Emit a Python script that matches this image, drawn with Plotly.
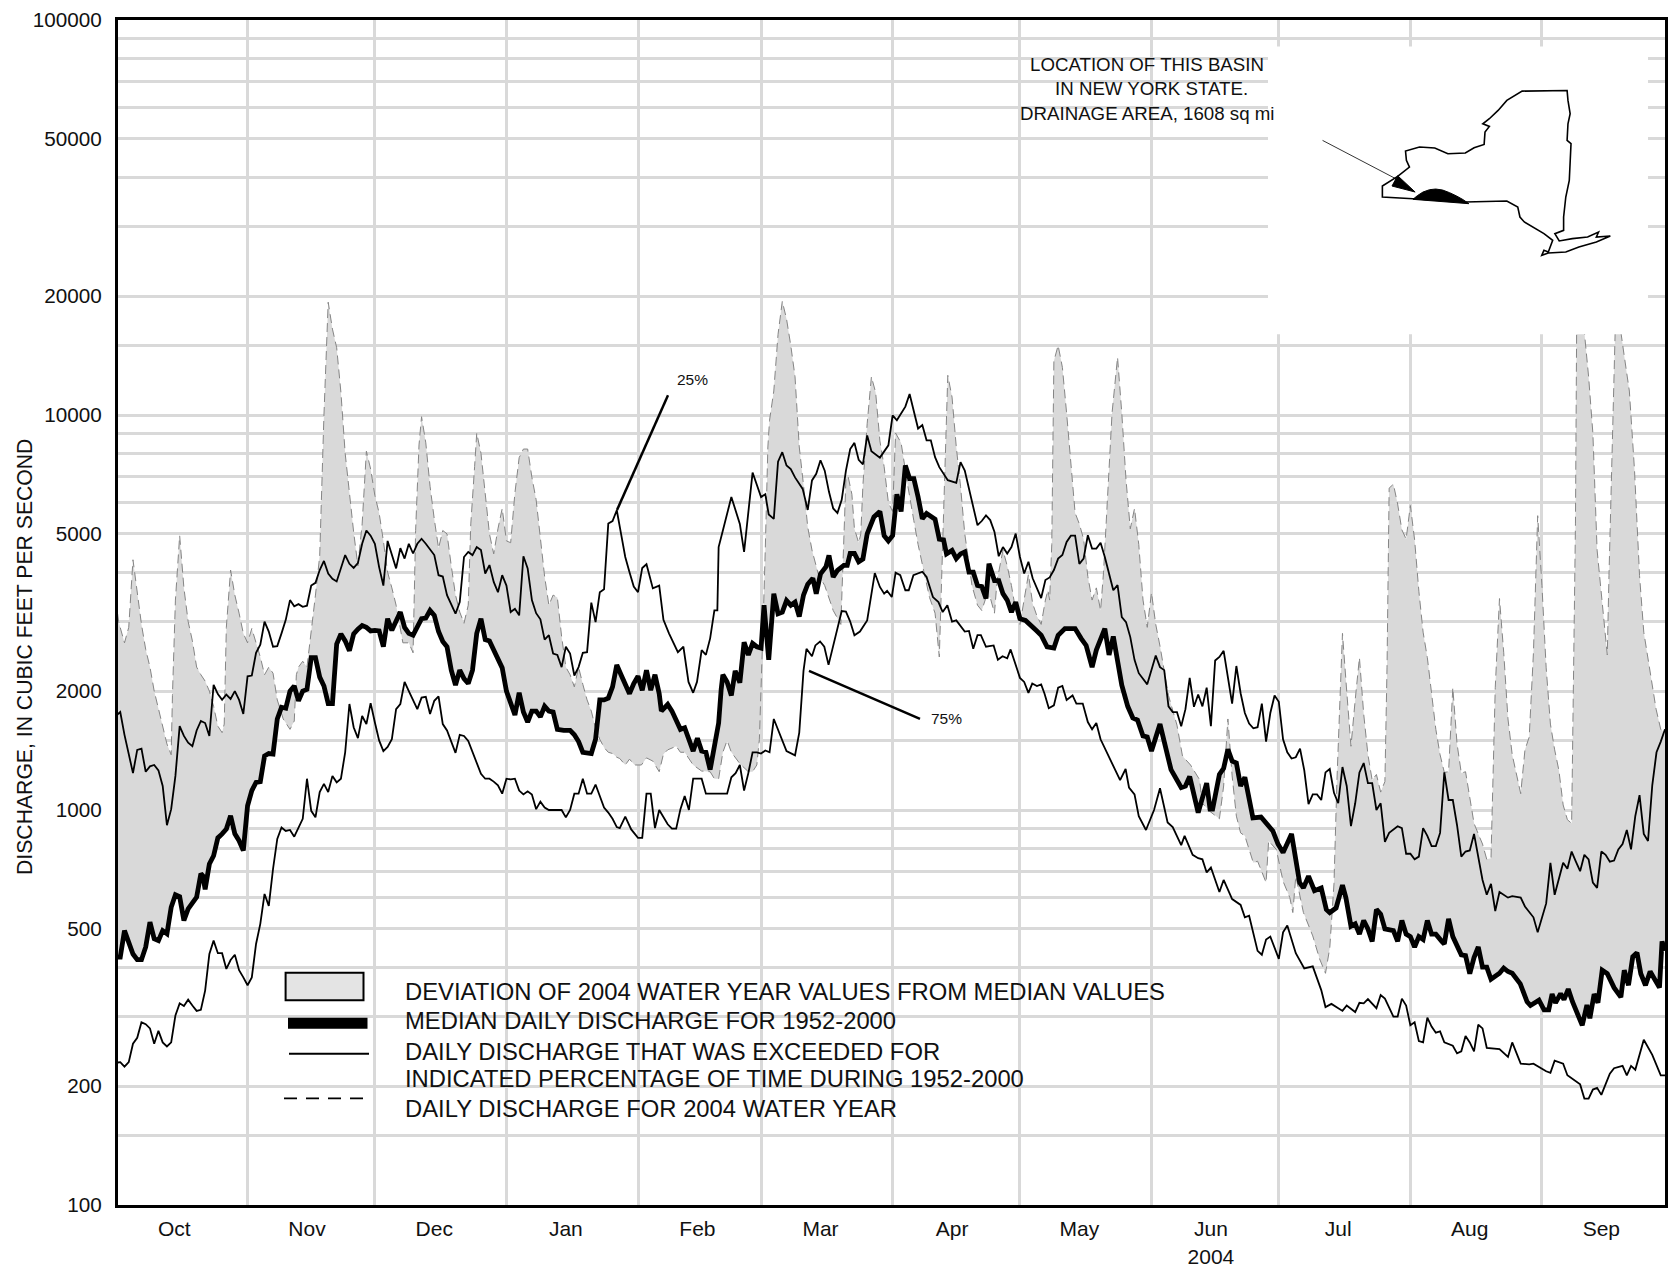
import pandas as pd
import plotly.graph_objects as go

START = pd.Timestamp("2003-10-01")

# (day of water year, discharge in cfs)
WY2004 = [(0,3400),(0.6,3000),(2,2650),(3,2900),(4,4300),(5,3550),(6,2950),(7,2550),(8,2300),(9,2000),(10,1800),(11,1610),(12,1470),(13,1380),(13.3,1950),(14,3400),(15,4950),(16,3650),(17,3000),(18,2680),(19,2300),(20,2200),(21,2120),(22,2000),(23,1830),(24,1630),(25,1570),(25.5,1650),(26,2900),(27,4050),(28,3500),(29,3150),(30,2800),(31,2650),(32,2880),(33,2650),(34,2440),(35,2200),(36,2300),(37,2220),(38,1900),(39.4,1700),(41,1600),(42,1680),(42.5,2200),(43,2300),(44,2380),(45,2300),(46,2800),(47,3500),(48,4400),(49,10000),(50,19300),(51,16500),(52,14800),(53,11400),(54,8000),(55,6250),(56,5050),(57,4150),(58,5300),(59,8100),(60,7300),(61,6250),(62,5650),(63,4800),(64,4000),(65,3650),(66,3300),(67.6,2650),(69,2650),(70,2500),(70.2,3100),(70.6,5100),(71.4,8400),(72,9900),(73,8500),(74,6600),(75,5450),(76,4600),(77,5100),(78,5000),(79,4150),(80,3500),(81,3170),(82,2970),(83,3300),(83.6,5300),(84.5,7400),(85,9000),(86,8000),(87,6350),(88,5000),(89,4450),(90,5150),(91,5800),(92,4800),(93,4750),(94,6350),(95,7800),(96,8200),(97,8200),(98,6950),(99,6100),(100,4950),(101,3900),(102,3300),(103,3500),(104,3450),(105,2750),(106,2300),(107,2200),(108,2050),(109,2300),(110,2080),(111,1900),(112,1780),(113,1610),(114,1510),(115,1440),(116,1400),(117,1390),(118,1360),(118.7,1350),(120,1300),(121,1345),(122.2,1300),(123.8,1300),(125,1355),(126.5,1330),(128,1250),(129,1385),(130,1420),(132,1450),(133,1400),(134,1400),(136,1300),(138,1255),(140,1250),(141,1200),(142,1200),(143,1400),(144,1500),(145,1400),(147,1310),(149,1250),(150,1250),(151,1300),(151.6,1510),(152,1980),(152.5,3000),(153,4600),(153.6,8300),(154,9700),(155,11500),(156,16000),(157,19400),(158,17500),(159,15000),(160,12500),(160.6,10100),(161,8300),(162,6650),(163,5200),(164,4550),(165.5,3950),(167,3700),(168,3450),(169,3200),(170.8,2950),(171.3,4450),(172,6900),(172.5,7000),(173.4,6300),(174,5150),(175,4750),(175.5,5000),(176,6650),(177,9500),(178,12500),(179,11400),(180,8600),(181,7400),(182,6000),(183,5700),(183.7,9000),(185,8500),(186,7200),(186.6,6600),(188,5400),(189,4700),(190.4,4000),(191.7,3450),(193,3150),(194,2440),(195,5600),(195.5,8300),(196,12600),(197,11100),(198,8300),(199,6600),(200,5000),(201,4200),(201.7,3700),(203,3300),(204,3200),(205,3450),(206,3450),(207,3150),(207.6,3800),(209,4550),(210,4150),(211,3700),(212,3200),(213,2950),(214,3400),(215,3950),(216,3330),(217,3100),(218,2950),(219,3400),(219.6,3600),(220,3400),(220.5,4700),(221,13700),(222,15000),(223,13200),(224,10100),(225,7400),(226,5650),(227,5300),(228,4850),(229,3900),(230,3400),(231,3650),(232,3200),(232.7,4000),(233.5,6000),(234.7,10100),(236,14000),(237,10100),(238,6850),(239,5150),(240,5800),(241,4700),(242,3400),(243,2900),(244,3550),(245,2950),(246,2600),(247,2270),(248,1950),(250,1640),(251.3,1370),(253.2,1300),(255.3,1195),(256,1040),(257.6,995),(260,950),(261,1150),(262,1700),(263,1220),(264,965),(265,875),(266,860),(267,795),(268,735),(269,742),(271,655),(271.6,835),(273.4,795),(275,660),(276.6,600),(277.3,550),(278,680),(279.8,550),(282,480),(283.6,420),(285,386),(286,447),(287,650),(287.7,1190),(288.3,1800),(289,2800),(290,2000),(291,1450),(292,1900),(293,2430),(294,1750),(295,1380),(296,1190),(297,1230),(298,1110),(299,1180),(299.5,2300),(300,6530),(301,6680),(302,5950),(303,5120),(304,4850),(305,5900),(306,4830),(307,3580),(308,2820),(309,2430),(310,1980),(311,1600),(312,1380),(313,1245),(314,1250),(315,2040),(316,1470),(317,1240),(318,1250),(319,1060),(320,925),(321,870),(322,820),(323,750),(324,755),(325,2040),(326,3430),(327,2500),(328,1700),(329,1380),(330,1230),(331,1100),(332,1420),(333,1530),(334,2500),(335,5560),(336,3700),(337,2290),(338,1650),(339,1420),(340,1260),(341,1030),(342,945),(343,925),(343.9,5300),(344.2,18000),(345,24000),(346,16200),(347,12500),(348,9000),(349,4550),(350.2,3280),(351.4,2470),(351.8,3920),(353,14100),(353.3,17000),(354,21000),(354.5,16500),(355.4,14100),(356.6,11500),(357.8,7300),(359,3920),(360,2820),(361.7,2200),(362.9,1800),(364,1600),(365,1560)]

Q50 = [(0,424),(1,424),(2,495),(3,458),(4,432),(5,418),(6,418),(7,450),(8,520),(9,472),(10,467),(11,495),(12,486),(13,567),(14,610),(15,603),(16,525),(17,562),(19,602),(20,690),(20.5,680),(21,630),(22,730),(23,766),(24,850),(25,870),(26,895),(27,967),(28,870),(29,836),(30,790),(31,1025),(32,1120),(33,1175),(34,1180),(35,1370),(36,1390),(37,1385),(38,1700),(39,1820),(40,1810),(41,2000),(42,2060),(43,1890),(44,2000),(45,2020),(46,2430),(47,2430),(48,2170),(49,2060),(50,1860),(51,1860),(52,2630),(53,2790),(54,2680),(55,2530),(56,2790),(57,2870),(58,2930),(59,2900),(60,2840),(61,2850),(62,2840),(63,2590),(64,3050),(65,2850),(66,3020),(67,3170),(68,2900),(69,2800),(70,2770),(71,2900),(72,3050),(73,3060),(74,3200),(75,3110),(76,2830),(77,2670),(78,2590),(79,2260),(80,2070),(81,2260),(82,2150),(83,2090),(84,2260),(85,2800),(86,3050),(87,2700),(88,2680),(89,2540),(90,2400),(91,2290),(92,2000),(93,1860),(94,1740),(95,1980),(96,1770),(97,1670),(98,1780),(99,1780),(100,1720),(101,1830),(102,1780),(103,1770),(104,1600),(105.5,1590),(107,1590),(108,1550),(109,1490),(110,1400),(111,1390),(112,1390),(113,1510),(114,1900),(115,1900),(116,1920),(117,2050),(118,2330),(119,2200),(120,2070),(121,1970),(122,2090),(123,2180),(124,2010),(125,2260),(126,2010),(127,2200),(128,1970),(128.5,1780),(130,1850),(131,1780),(133,1600),(134,1615),(136,1410),(137,1520),(138,1410),(139,1400),(140,1265),(141,1430),(142,1660),(142.6,2020),(143,2200),(144,2110),(145,1950),(145.9,2250),(147,2100),(148,2660),(149,2470),(150,2640),(151,2590),(152,2570),(152.7,3300),(153.8,2400),(155,3530),(156,3140),(157,3170),(158,3390),(159,3300),(160,3360),(161,3090),(162,3500),(163,3730),(164.2,3860),(165,3530),(166,3960),(167.3,4130),(168,4410),(169,3890),(170,4040),(171.5,4160),(172.3,4160),(173,4460),(174,4460),(175,4250),(176,4320),(177,5000),(178.6,5520),(180,5700),(181,4950),(182,4800),(183,4950),(184,6300),(185,5700),(186,7450),(187,6900),(188,6900),(189,6200),(190,5460),(191,5630),(193,5450),(194,4850),(195,4830),(195.7,4450),(197,4540),(198,4330),(199,4450),(200,4500),(201,4000),(202,4000),(203,3700),(204,3680),(205,3430),(205.7,4200),(207,3810),(208,3810),(209,3530),(210,3400),(211,3170),(212,3360),(213,3050),(214.3,3020),(215.6,2940),(216.8,2850),(218,2770),(219.4,2590),(221,2570),(222,2770),(223.6,2880),(226,2880),(227.4,2720),(228.6,2610),(230,2300),(231,2540),(233,2880),(234,2470),(235,2750),(236,2420),(237,2070),(238.4,1830),(239.6,1710),(240.7,1690),(242,1540),(243,1530),(244,1410),(246,1650),(247,1480),(248.6,1265),(251,1140),(252,1150),(253,1215),(255,985),(257,1170),(257.8,1005),(258.4,1005),(260,1230),(261,1275),(262,1425),(263,1330),(264,1315),(265,1150),(266,1210),(267.9,955),(269.8,960),(272.6,885),(273.8,820),(275,780),(277,870),(278.9,655),(279.8,635),(281,680),(282.4,625),(284,635),(285.2,560),(286,550),(287.5,565),(289,645),(289.8,600),(291,508),(292,515),(293,485),(294,525),(295,500),(296,465),(297,560),(298,545),(299,500),(301,495),(302,465),(303,525),(304,485),(305,478),(306,450),(307,478),(308,470),(309,525),(310,485),(311,485),(312.4,465),(313,458),(314,530),(315,478),(317,430),(318,428),(319,385),(320,423),(321,450),(322,400),(323,400),(324,373),(326,386),(327,398),(328,390),(329,386),(330.9,363),(332.5,327),(333.3,320),(335.3,330),(336.5,312),(337.6,312),(338.4,342),(339.2,325),(340.4,343),(341.2,331),(342.2,352),(343.2,327),(345.5,285),(346.6,321),(347.3,297),(348.3,342),(349.2,325),(350.2,393),(351.4,385),(353,355),(354.6,336),(355.4,393),(356.4,360),(357.4,425),(358.4,435),(359.3,385),(360.4,360),(361.5,390),(363.7,355),(364.3,465),(365,440)]

Q25 = [(0,1733),(1,1770),(2,1550),(3,1390),(4,1240),(5,1420),(6,1430),(7,1250),(8,1290),(9,1300),(10,1260),(11,1150),(12,915),(13,1005),(14,1220),(15,1630),(16,1540),(17,1480),(18,1450),(19,1590),(20,1680),(21,1660),(22,1540),(23,2075),(24,1965),(25,1900),(26,1960),(27,1910),(28,2000),(29,1900),(30,1750),(31,2180),(32,2190),(33,2500),(34,2620),(35,3000),(36,2830),(37,2590),(38,2600),(39,2800),(40,3030),(41,3400),(42,3280),(43,3320),(44,3270),(45,3290),(46,3700),(47,3760),(48,4050),(49,4270),(50,3970),(51,3850),(52,3790),(54,4420),(55,4200),(56,4100),(57,4220),(58,4720),(59,5100),(60,4950),(61,4720),(62,4120),(63,3700),(64,4800),(65,4420),(66,4090),(67,4600),(68,4330),(69,4720),(70,4460),(71,4720),(72,4860),(73,4720),(74,4550),(75,4420),(76,3930),(77,3900),(78,3500),(79,3300),(80,3140),(81,3360),(82,4370),(83,4500),(84,4420),(85,4630),(86,4550),(87,3970),(88,4170),(89,3780),(90,3560),(91,3930),(92,3700),(93,3170),(94,3230),(95,3110),(96,4390),(97,4090),(98,3400),(99,3150),(100,3040),(101,2700),(102,2770),(103,2490),(104,2470),(105,2300),(106,2590),(107,2490),(108,2190),(109,2300),(110,2500),(111,2510),(112,3350),(113,2990),(114,3560),(115,3620),(116,5310),(117,5390),(118,5740),(119,5010),(120,4370),(121,4000),(122,3680),(123,3560),(124,4100),(125,4190),(126.5,3640),(128,3700),(129,3030),(130.3,2800),(131.4,2640),(132.4,2510),(133.7,2590),(134.9,2110),(136,1980),(136.9,2110),(138,2540),(139,2470),(140,2720),(141,3200),(141.7,3200),(142,4630),(143,5100),(145,6200),(147,5300),(148,4500),(150,7150),(152,6200),(153,6300),(153.8,5600),(155,5460),(156,7620),(157,8050),(158,7450),(159,7300),(160,6950),(161.8,6500),(163,5750),(164,6830),(165,7100),(166,7680),(167,7230),(168,6390),(169,5800),(170,5650),(171,6100),(172,7230),(173,8200),(174,8500),(175,7700),(176,7500),(177,8880),(178,8100),(180,7800),(182,8380),(183,9980),(184,9700),(185,10100),(186,10500),(187,11300),(189,9240),(190,9430),(191,8630),(192,8630),(193,7820),(194,7380),(196,6840),(198,6730),(199,7600),(200,7230),(201,6500),(203,5260),(204,5390),(205,5570),(206,5420),(207,5060),(208,4390),(209,4630),(210,4460),(211,4630),(212,5010),(213,4370),(214,3970),(215,4250),(216,3860),(217,3630),(218,3440),(219,3820),(220,3880),(221,4050),(222,4330),(223,4420),(224,4770),(225,4950),(226,4950),(227,4200),(228,4330),(229,4960),(230,4590),(231,4590),(232,4750),(233,4370),(234,3970),(235,3600),(236,3710),(237,3080),(238,2990),(239,2740),(240,2400),(241,2220),(243,2080),(244,2250),(245,2460),(246,2300),(247,2260),(248,1830),(249,1770),(250,1770),(251,1630),(252,1800),(253,2160),(254,1825),(255,1960),(256,1830),(257,2040),(258,1630),(259,2390),(260,2440),(261,2530),(263,1860),(264,2315),(265,1975),(266,1760),(267,1655),(268,1610),(269,1620),(270,1860),(271,1490),(272,1760),(273,1950),(274,1880),(275,1510),(276,1400),(277,1350),(278,1360),(279,1430),(280,1260),(281,1035),(282,1095),(283,1095),(284,1060),(285,1245),(286,1270),(287,1105),(288,1040),(289,1285),(290,1150),(291,910),(292,1040),(293,1245),(294,1315),(295,1170),(296,1170),(297,1000),(298,1040),(299,830),(300,875),(302,910),(303,900),(304,775),(305,775),(306,750),(307,762),(308,900),(309,860),(310,810),(311,810),(312,875),(313,1245),(314,1060),(315,1060),(316,915),(317,762),(318,785),(319,790),(320,870),(321,760),(322,665),(323,610),(324,650),(325,555),(326,620),(328,600),(329,605),(331,600),(332,570),(334,535),(335,490),(337,580),(338,735),(339,610),(341,735),(342,710),(343,785),(344,740),(345,700),(346,770),(347,750),(348,655),(349,635),(350,785),(351,770),(352,740),(353,745),(354,795),(355,820),(356,890),(357,795),(358,965),(359,1090),(360,870),(361,835),(362,1155),(363,1400),(364,1490),(365,1600)]

Q75 = [(0,229),(1,230),(2,224),(3,230),(4,256),(5,265),(6,290),(7,287),(8,280),(9,256),(10,276),(11,258),(12,252),(13,258),(14,302),(15,324),(16,319),(17,331),(18,320),(19,310),(20,312),(21,349),(22,432),(23,467),(24,434),(25,434),(26,396),(27,417),(28,430),(29,393),(30,377),(31,360),(32,377),(33,458),(34,515),(35,613),(36,572),(37,709),(38,845),(39,903),(40,885),(41,890),(42,856),(43,900),(44,950),(45,1200),(46,995),(47,958),(48,1110),(49,1165),(50,1110),(51,1220),(52,1175),(53,1200),(54,1400),(55,1855),(56,1620),(57,1520),(58,1730),(59,1650),(60,1865),(61,1665),(62,1500),(63,1410),(64,1445),(65,1510),(66,1800),(67,1855),(68,2110),(69,2000),(70,1890),(71,1800),(72,1925),(73,1935),(74,1750),(75,1890),(76,1940),(77,1650),(78,1590),(79,1495),(80,1395),(81,1550),(82,1540),(83,1495),(84,1400),(85,1320),(86,1235),(87,1200),(88,1200),(89,1180),(90,1155),(91,1100),(92,1200),(93,1195),(94,1200),(95,1120),(96,1095),(97,1115),(98,1095),(99,1005),(100,1050),(101,1015),(102,1000),(105,1000),(106,958),(107,1000),(108,1100),(109,1100),(110,1200),(111,1100),(112,1100),(113,1160),(114,1090),(115,1015),(116,985),(117,950),(118,905),(118.7,900),(120,962),(121.4,893),(123,850),(124,850),(125,1100),(126,1100),(127,900),(128,1000),(130,920),(131,897),(132,897),(133,1005),(134,1085),(135,1000),(136,1200),(138,1200),(139,1100),(144,1100),(145,1210),(146,1240),(147,1300),(148,1120),(149,1240),(150,1400),(151,1400),(152,1390),(153,1415),(154,1400),(155,1700),(158,1410),(160,1375),(161,1570),(162,2250),(162.7,2560),(164,2450),(164.8,2610),(165.9,2670),(166.9,2590),(167.9,2330),(170.5,3000),(171,3190),(172,3180),(173,3000),(174,2770),(175.3,2830),(177,3020),(177.8,3460),(178.8,3980),(180,3670),(181,3530),(181.7,3590),(182.8,3460),(183.7,3990),(184.8,3930),(186,3600),(186.8,3600),(187.9,3930),(190,4010),(191,3890),(192.5,3460),(193.8,3360),(194.8,3170),(195.9,3300),(197,3000),(198,3020),(200,2830),(201,2840),(202,2560),(203,2770),(203.8,2770),(205,2590),(206.8,2610),(207.8,2400),(208.9,2450),(210,2420),(210.8,2550),(213,2160),(214,2110),(215,1980),(215.9,2090),(217,2060),(218,2080),(218.8,1970),(219.8,1810),(221,1840),(222,2040),(223,2060),(224,1900),(225.4,1950),(226.3,1860),(227.8,1860),(229,1670),(230,1600),(231,1660),(232,1510),(233.3,1410),(235,1290),(236.6,1190),(237.9,1270),(238.7,1140),(240,1095),(241,965),(242.7,890),(244.6,1000),(246,1135),(247.8,930),(249,905),(251,815),(251.8,860),(253.7,770),(255,755),(256,750),(257,695),(258,715),(260,620),(261,665),(263,595),(265,575),(266,535),(267,540),(269,440),(270,430),(271,470),(272,478),(274,420),(275,490),(276,510),(278,434),(280,397),(282,402),(284,350),(285,317),(286.4,323),(289,310),(290,320),(292,308),(293,325),(294,324),(295,332),(297,315),(298,340),(299,333),(301,300),(302,300),(303,333),(304,320),(305,285),(306,290),(307,260),(308,258),(309,298),(310,283),(311,273),(312,275),(313,258),(315,253),(316,242),(317,245),(318,268),(319,258),(320,245),(321,286),(322,280),(323,250),(326,248),(328,237),(329,258),(331,228),(333,227),(334,228),(337,218),(338,216),(339,232),(341,228),(342,213),(344,205),(345,202),(346,186),(347,186),(348,196),(349,198),(350,190),(351,202),(352,215),(353,222),(355,225),(356,213),(357,225),(358,220),(360,262),(362,240),(364,213),(365,213)]

MONTH_STARTS = ["2003-11-01","2003-12-01","2004-01-01","2004-02-01","2004-03-01","2004-04-01",
                "2004-05-01","2004-06-01","2004-07-01","2004-08-01","2004-09-01"]
MONTH_MIDS = ["2003-10-14 18:00","2003-11-15","2003-12-15","2004-01-15","2004-02-15","2004-03-15",
              "2004-04-15","2004-05-15","2004-06-15","2004-07-15","2004-08-15","2004-09-15"]
MONTH_LABELS = ["Oct","Nov","Dec","Jan","Feb","Mar","Apr","May","Jun<br>2004","Jul","Aug","Sep"]
Y_GRID = [100,150,200,300,400,500,600,700,800,900,1000,1500,2000,3000,4000,5000,6000,7000,8000,9000,
          10000,15000,20000,30000,40000,50000,60000,70000,80000,90000,100000]
Y_LABELLED = [100,200,500,1000,2000,5000,10000,20000,50000,100000]

# inset drawing, in the pixel coordinates of the page
NY_OUTLINE = [(910,530),(910,497),(945,468),(972,440),(965,420),(963,392),(995,380),(1030,383),(1060,400),(1100,398),(1120,382),(1143,372),(1145,335),(1155,318),(1140,310),(1155,295),(1175,270),(1195,240),(1230,212),(1333,210),(1335,240),(1340,280),(1335,310),(1333,360),(1342,370),(1338,480),(1330,530),(1325,590),(1325,630),(1305,640),(1315,662),(1345,655),(1380,650),(1405,635),(1400,650),(1432,647),(1400,665),(1360,680),(1330,695),(1290,698),(1275,705),(1280,690),(1290,695),(1300,660),(1280,640),(1235,605),(1225,590),(1220,560),(1195,542),(1100,545),(980,535)]
NY_BASIN = [(980,537),(990,526),(1003,515),(1018,508),(1032,506),(1048,509),(1064,517),(1080,527),(1095,538),(1108,550)]
NY_ARROW = [(945,466),(932,497),(985,515)]

L, R, T, B = 118.0, 1665.0, 19.5, 1205.5
WIDTH, HEIGHT = 1671, 1268
INK, GRID, FILL = "#000000", "#d9d9d9", "#d9d9d9"
FONT = "Liberation Sans, Helvetica, Arial, sans-serif"


def dates(series):
    return [START + pd.to_timedelta(d, "D") for d, _ in series]


def vals(series):
    return [v for _, v in series]


def px(x):
    return (x - L) / (R - L)


def py(y):
    return (B - y) / (B - T)


def zoom_pt(p):
    return 985 + p[0] / 2.29, 20 + p[1] / 3.0


def path(points, close=True):
    parts = []
    for i, p in enumerate(points):
        x, y = zoom_pt(p)
        parts.append(f"{'M' if i == 0 else 'L'}{px(x):.5f},{py(y):.5f}")
    return " ".join(parts) + (" Z" if close else "")


def rect(x0, y0, x1, y1, fill="#ffffff", layer="below", line=None):
    return dict(type="rect", xref="paper", yref="paper", x0=px(x0), x1=px(x1), y0=py(y1), y1=py(y0),
                fillcolor=fill, layer=layer, line=line or dict(width=0))


def seg(x0, y0, x1, y1, width=2.5, dash="solid"):
    return dict(type="line", xref="paper", yref="paper", x0=px(x0), x1=px(x1), y0=py(y0), y1=py(y1),
                line=dict(color=INK, width=width, dash=dash))


fig = go.Figure()
fig.add_trace(go.Scatter(x=dates(Q50), y=vals(Q50), mode="lines", line=dict(color="rgba(0,0,0,0)", width=0),
                         showlegend=False, hoverinfo="skip"))
fig.add_trace(go.Scatter(x=dates(WY2004), y=vals(WY2004), mode="lines", fill="tonexty", fillcolor=FILL,
                         name="Daily discharge for 2004 water year",
                         line=dict(color="#858585", width=1, dash="9px,5px"), showlegend=False))
fig.add_trace(go.Scatter(x=dates(Q25), y=vals(Q25), mode="lines", name="25%",
                         line=dict(color=INK, width=1.8), showlegend=False))
fig.add_trace(go.Scatter(x=dates(Q75), y=vals(Q75), mode="lines", name="75%",
                         line=dict(color=INK, width=1.8), showlegend=False))
fig.add_trace(go.Scatter(x=dates(Q50), y=vals(Q50), mode="lines", name="Median",
                         line=dict(color=INK, width=4.8), showlegend=False))

shapes = [
    rect(996, 46, 1268, 136.5),
    rect(262.5, 951, 1187, 1131),
    rect(1268, 46, 1648, 334, layer="above"),
    dict(type="path", xref="paper", yref="paper", path=path(NY_OUTLINE), line=dict(color=INK, width=1.6)),
    dict(type="path", xref="paper", yref="paper", path=path(NY_BASIN), fillcolor=INK, line=dict(color=INK, width=1)),
    dict(type="path", xref="paper", yref="paper", path=path(NY_ARROW), fillcolor=INK, line=dict(color=INK, width=1)),
    dict(type="path", xref="paper", yref="paper", path=path([(773, 360), (945, 478)], close=False),
         line=dict(color=INK, width=0.8)),
    seg(668, 395, 617, 510),
    seg(809, 671, 920, 719),
    rect(285.6, 973, 363.5, 1000.5, fill="#e4e4e4", layer="above", line=dict(color=INK, width=2)),
    rect(288, 1018, 367.5, 1029, fill=INK, layer="above"),
    seg(289, 1054, 369, 1054, width=2),
    seg(284, 1098.7, 365, 1098.7, width=1.8, dash="13px,9px"),
]


def note(text, x, y, size, anchor="center", angle=0):
    return dict(text=text, xref="paper", yref="paper", x=px(x), y=py(y), showarrow=False, xanchor=anchor,
                yanchor="middle", textangle=angle, font=dict(family=FONT, size=size, color="#111111"), align="left")


annotations = [
    note("25%", 692, 379, 15.5),
    note("75%", 946.5, 719, 15.5),
    note("LOCATION OF THIS BASIN", 1147, 64, 18.7),
    note("IN NEW YORK STATE.", 1151, 88.5, 18.7),
    note("DRAINAGE AREA, 1608 sq mi", 1147, 113, 18.7),
    note("DEVIATION OF 2004 WATER YEAR VALUES FROM MEDIAN VALUES", 402.5, 992, 23.8, anchor="left"),
    note("MEDIAN DAILY DISCHARGE FOR 1952-2000", 402.5, 1021, 23.8, anchor="left"),
    note("DAILY DISCHARGE THAT WAS EXCEEDED FOR", 402.5, 1051.5, 23.8, anchor="left"),
    note("INDICATED PERCENTAGE OF TIME DURING 1952-2000", 402.5, 1079, 23.8, anchor="left"),
    note("DAILY DISCHARGE FOR 2004 WATER YEAR", 402.5, 1109, 23.8, anchor="left"),
    note("DISCHARGE, IN CUBIC FEET PER SECOND", 25, 657, 21.2, angle=-90),
]

fig.update_layout(
    width=WIDTH, height=HEIGHT, margin=dict(l=L, r=WIDTH - R, t=T, b=HEIGHT - B, autoexpand=False),
    paper_bgcolor="#ffffff", plot_bgcolor="#ffffff", showlegend=False, hovermode=False,
    font=dict(family=FONT, size=21, color="#111111"), shapes=shapes, annotations=annotations,
    xaxis=dict(type="date", range=[START + pd.to_timedelta(0.47, "D"), START + pd.to_timedelta(365, "D")],
               tickmode="array", tickvals=MONTH_MIDS,
               ticktext=MONTH_LABELS, ticks="", showgrid=False, tickangle=0, ticklabelstandoff=3,
               tickfont=dict(size=21), showline=True, mirror=True, linecolor=INK, linewidth=3, zeroline=False,
               minor=dict(tickmode="array", tickvals=MONTH_STARTS, showgrid=True, gridcolor=GRID, gridwidth=2.5,
                          ticks="")),
    yaxis=dict(type="log", range=[2, 5], tickmode="array", tickvals=Y_GRID,
               ticktext=[f"{v}" if v in Y_LABELLED else "" for v in Y_GRID], ticks="", showgrid=True,
               gridcolor=GRID, gridwidth=2.5, tickfont=dict(size=20.7), ticklabelstandoff=9, showline=True, mirror=True,
               linecolor=INK, linewidth=3, zeroline=False),
)

fig.write_html("out.html", config=dict(displayModeBar=False), post_script="document.body.style.margin='0';")
